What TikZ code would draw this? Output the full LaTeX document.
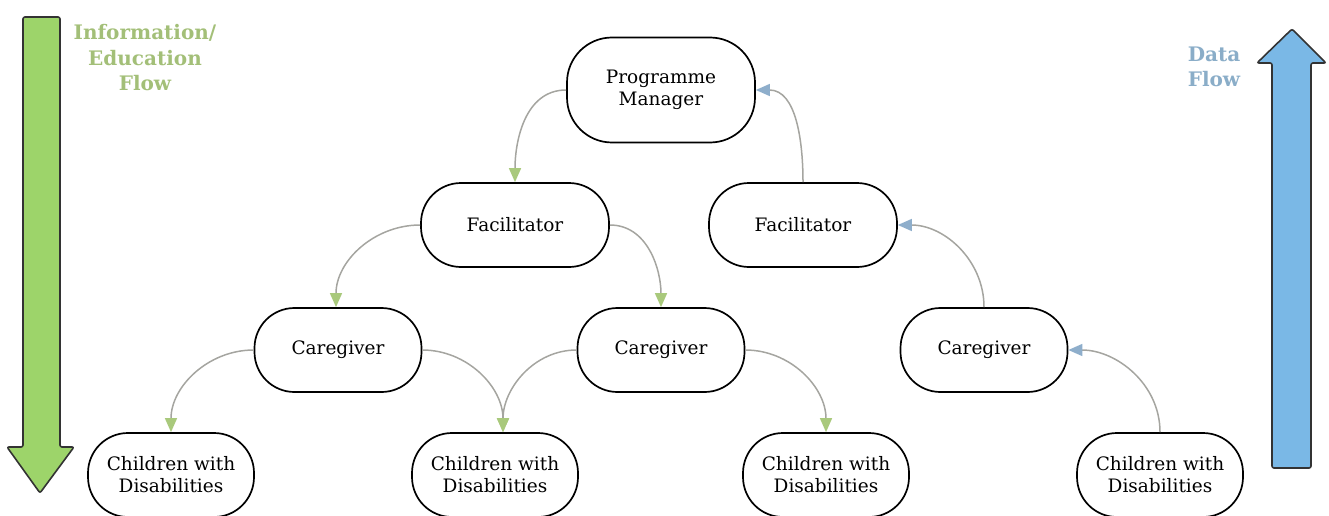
\documentclass[tikz,border=0pt]{standalone}
\usepackage{fontspec}
\setmainfont{DejaVu Serif}
\usetikzlibrary{arrows.meta}
\definecolor{linegray}{HTML}{A5A5A0}
\definecolor{tipgreen}{HTML}{A9C97C}
\definecolor{tipblue}{HTML}{8EAECB}
\definecolor{biggreen}{HTML}{9DD46A}
\definecolor{bigblue}{HTML}{7AB8E6}
\definecolor{txtgreen}{HTML}{A3BF78}
\definecolor{txtblue}{HTML}{8AADC8}
\tikzset{
  box/.style={draw=black, line width=1.7pt, fill=white, rounded corners=40pt,
    minimum width=167pt, minimum height=84pt, align=center,
    font=\fontsize{18.5}{22}\selectfont, inner sep=0pt},
  down/.style={draw=linegray, line width=1.5pt,
    -{Triangle[length=14pt,width=12pt,color=tipgreen]}},
  up/.style={draw=linegray, line width=1.5pt,
    -{Triangle[length=14pt,width=12pt,color=tipblue]}},
  bigarrow/.style={draw=black!80, line width=1.6pt, rounded corners=2pt},
  flowlabel/.style={align=center, font=\bfseries\fontsize{20}{25.5}\selectfont}
}
\begin{document}
\begin{tikzpicture}[x=1pt,y=-1pt]
\useasboundingbox (0,0) rectangle (1329,516);
% big arrows
\draw[bigarrow, fill=biggreen] (23,17) -- (60,17) -- (60,447) -- (74,447) -- (40,493) -- (7,447) -- (23,447) -- cycle;
\draw[bigarrow, fill=bigblue] (1272,468) -- (1311,468) -- (1311,63) -- (1326,63) -- (1292,29) -- (1257,63) -- (1272,63) -- cycle;
\node[flowlabel, text=txtgreen] (lblinfo) at (145,58) {Information/\\Education\\Flow};
\node[flowlabel, text=txtblue] (lbldata) at (1214,67) {Data\\Flow};
% nodes
\node[box, minimum width=188pt, minimum height=105pt, rounded corners=45pt] (pm) at (661,90) {Programme\\Manager};
\node[box, minimum width=188pt] (facL) at (515,225) {Facilitator};
\node[box, minimum width=188pt] (facR) at (803,225) {Facilitator};
\node[box] (care1) at (338,350) {Caregiver};
\node[box] (care2) at (661,350) {Caregiver};
\node[box] (care3) at (984,350) {Caregiver};
\node[box, minimum width=166pt] (ch1) at (171,475) {Children with\\Disabilities};
\node[box, minimum width=166pt] (ch2) at (495,475) {Children with\\Disabilities};
\node[box, minimum width=166pt] (ch3) at (826,475) {Children with\\Disabilities};
\node[box, minimum width=166pt] (ch4) at (1160,475) {Children with\\Disabilities};
% information flow
\draw[down] (pm.west) to[out=180,in=90] (facL.north);
\draw[down] (facL.west) to[out=180,in=90] ([xshift=-2pt]care1.north);
\draw[down] (facL.east) to[out=0,in=90] (care2.north);
\draw[down] (care1.west) to[out=180,in=90] (ch1.north);
\draw[down] (care1.east) to[out=0,in=90] ([xshift=8pt]ch2.north);
\draw[down] (care2.west) to[out=180,in=90] ([xshift=8pt]ch2.north);
\draw[down] (care2.east) to[out=0,in=90] (ch3.north);
% data flow
\draw[up] (ch4.north) to[out=90,in=0] (care3.east);
\draw[up] (care3.north) to[out=90,in=0] (facR.east);
\draw[up] (facR.north) to[out=90,in=0] (pm.east);
\end{tikzpicture}
\end{document}
